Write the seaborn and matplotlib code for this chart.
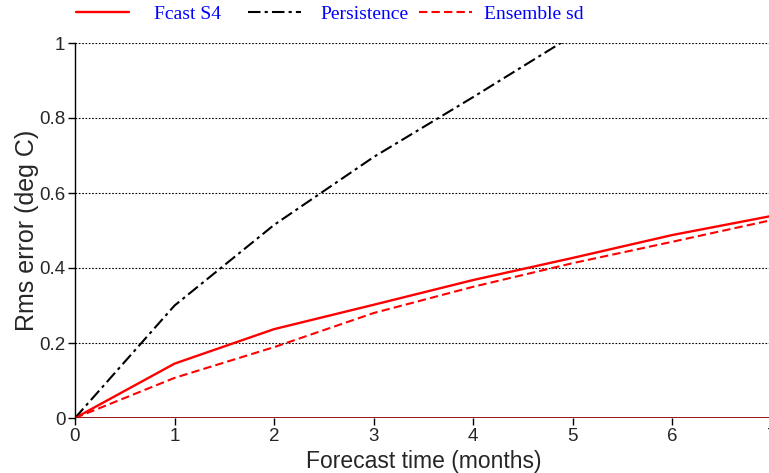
import matplotlib
matplotlib.use("Agg")
import matplotlib.pyplot as plt
import seaborn as sns
import pandas as pd

months = [0, 1, 2, 3, 4, 5, 6, 7]
fcast_s4 = [0.0, 0.145, 0.237, 0.302, 0.368, 0.427, 0.488, 0.539]
ensemble_sd = [0.0, 0.107, 0.189, 0.280, 0.350, 0.413, 0.470, 0.528]
persist_months = [0, 1, 2, 3, 4, 5]
persistence = [0.0, 0.300, 0.515, 0.696, 0.856, 1.02]
yticks = [0, 0.2, 0.4, 0.6, 0.8, 1]
ytick_labels = ["0", "0.2", "0.4", "0.6", "0.8", "1"]
xticks = [0, 1, 2, 3, 4, 5, 6, 7]

sns.set_theme(style="white")
plt.rcParams['font.family'] = ['Liberation Sans', 'DejaVu Sans']

W, H = 769, 473
fig = plt.figure(figsize=(W / 100, H / 100), dpi=100)
left, right = 75 / W, 772 / W
top, bottom = 43 / H, 418 / H
ax = fig.add_axes([left, 1 - bottom, right - left, bottom - top])

df_s4 = pd.DataFrame({"m": months, "v": fcast_s4})
df_sd = pd.DataFrame({"m": months, "v": ensemble_sd})
df_p = pd.DataFrame({"m": persist_months, "v": persistence})

for yv in yticks[1:]:
    ax.axhline(yv, color="black", lw=0.8, ls=(0, (1.5, 1.5)), zorder=1)

sns.lineplot(data=df_s4, x="m", y="v", ax=ax, color="#ff0000", lw=1.7, label="Fcast S4", legend=False)
sns.lineplot(data=df_p, x="m", y="v", ax=ax, color="black", lw=1.5, ls=(0, (6, 2, 1.5, 2)), label="Persistence", legend=False)
sns.lineplot(data=df_sd, x="m", y="v", ax=ax, color="#ff0000", lw=1.5, ls=(0, (4, 2)), label="Ensemble sd", legend=False)
ax.axhline(0, color="#8b0000", lw=2.0, zorder=3)

ax.set_xlim(0, 7)
ax.set_ylim(0, 1)
ax.set_yticks(yticks)
ax.set_yticklabels(ytick_labels)
ax.set_xticks(xticks)
ax.tick_params(axis="both", labelsize=13.5, length=5, width=1, color="black", direction="out", pad=2)
ax.yaxis.set_ticks_position("left")
ax.xaxis.set_ticks_position("bottom")
for s in ["top", "right"]:
    ax.spines[s].set_visible(False)
ax.spines["left"].set_color("black")
ax.spines["left"].set_linewidth(1.0)
ax.spines["bottom"].set_visible(False)
ax.set_xlabel("Forecast time (months)", fontsize=16.5, labelpad=4)
ax.set_ylabel("Rms error (deg C)", fontsize=18)
ax.yaxis.set_label_coords(-0.052, 0.5)

handles, labels = ax.get_legend_handles_labels()
legend_x = [76, 248, 419]
text_pad = [1.25, 0.95, 0.6]
for h, lab, x0, tp in zip(handles, labels, legend_x, text_pad):
    leg = fig.legend([h], [lab], loc="center left", bbox_to_anchor=(x0 / W, 1 - 14 / H),
                     frameon=False, handlelength=2.75, handletextpad=tp, borderpad=0,
                     borderaxespad=0, prop={"family": "Liberation Serif", "size": 14})
    for t in leg.get_texts():
        t.set_color("#0000ff")

fig.savefig("out.png", dpi=100)
